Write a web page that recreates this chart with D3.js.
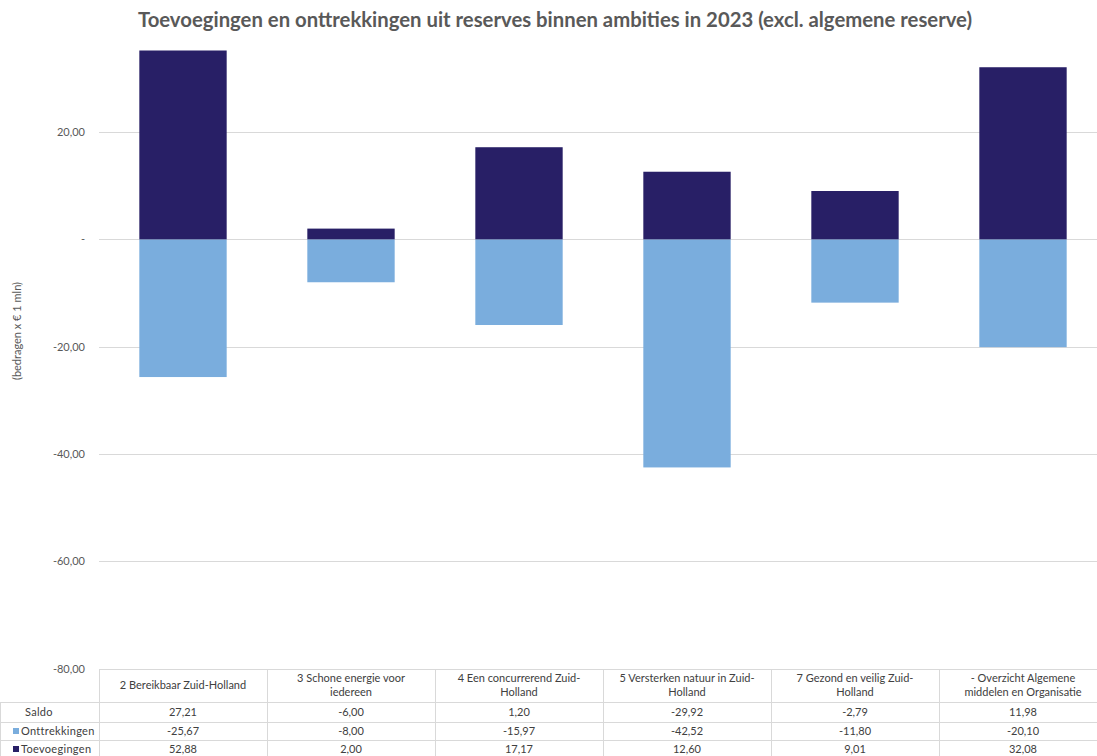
<!DOCTYPE html>
<html>
<head>
<meta charset="utf-8">
<script src="https://cdn.jsdelivr.net/npm/d3@7"></script>
<style>
  body { margin: 0; background: #fff; }
  svg text { font-family: Lato, "Open Sans", sans-serif; }
</style>
</head>
<body>
<div id="chart"></div>
<script>

var title = "Toevoegingen en onttrekkingen uit reserves binnen ambities in 2023 (excl. algemene reserve)"

var categories = [
	"2 Bereikbaar Zuid-Holland",
	"3 Schone energie voor\niedereen",
	"4 Een concurrerend Zuid-\nHolland",
	"5 Versterken natuur in Zuid-\nHolland",
	"7 Gezond en veilig Zuid-\nHolland",
	"- Overzicht Algemene\nmiddelen en Organisatie"
]

var saldo = [27.21, -6.00, 1.20, -29.92, -2.79, 11.98]
var onttrekkingen = [-25.67, -8.00, -15.97, -42.52, -11.80, -20.10]
var toevoegingen = [52.88, 2.00, 17.17, 12.60, 9.01, 32.08]

var yTicks = [-80, -60, -40, -20, 0, 20]
var yDomain = [-80, 35.2]

var yTitle = "(bedragen x € 1 mln)"

var width = 1097, height = 756

var plotLeft = 99, plotTop = 50.5, plotBottom = 668.5
var colWidth = 168

var navy = "#281f66", light = "#7aaddd", grid = "#d9d9d9", textCol = "#595959"

var svg = d3.select("#chart").append("svg")
	.attr("width", width)
	.attr("height", height)

var x = d3.scaleBand()
	.domain(d3.range(categories.length))
	.range([plotLeft, plotLeft + colWidth * categories.length])
	.paddingInner(0.48)
	.paddingOuter(0.24)

var y = d3.scaleLinear()
	.domain(yDomain)
	.range([plotBottom, plotTop])

var fmt = function(v) {
	if (v === 0) return "-"
	return d3.format(".2f")(v).replace(".", ",").replace("−", "-")
}

// title
var t = svg.append("text")
	.attr("x", 555)
	.attr("y", 27)
	.attr("text-anchor", "middle")
	.attr("font-weight", "bold")
	.attr("font-size", 18)
	.attr("fill", textCol)
	.text(title)

var tw = t.node().getComputedTextLength()
t.attr("font-size", 18 * 835 / tw)

// gridlines
svg.append("g").selectAll("line")
	.data(yTicks)
	.enter()
	.append("line")
	.attr("x1", plotLeft)
	.attr("x2", width)
	.attr("y1", d => Math.round(y(d)) + 0.5)
	.attr("y2", d => Math.round(y(d)) + 0.5)
	.attr("stroke", grid)

// y tick labels
svg.append("g").selectAll("text")
	.data(yTicks)
	.enter()
	.append("text")
	.attr("x", 85)
	.attr("y", d => y(d) + 4)
	.attr("text-anchor", "end")
	.attr("font-size", 11)
	.attr("fill", textCol)
	.text(fmt)

svg.append("text")
	.attr("transform", "translate(21,331) rotate(-90)")
	.attr("text-anchor", "middle")
	.attr("font-size", 11)
	.attr("fill", textCol)
	.text(yTitle)

// bars
svg.append("clipPath").attr("id", "plotClip")
	.append("rect")
	.attr("x", plotLeft)
	.attr("y", plotTop)
	.attr("width", width - plotLeft)
	.attr("height", plotBottom - plotTop)

var bars = svg.append("g").attr("clip-path", "url(#plotClip)")

bars.selectAll(".neg")
	.data(onttrekkingen)
	.enter()
	.append("rect")
	.attr("class", "neg")
	.attr("x", (d, i) => x(i))
	.attr("width", x.bandwidth())
	.attr("y", y(0))
	.attr("height", d => y(d) - y(0))
	.attr("fill", light)

bars.selectAll(".pos")
	.data(toevoegingen)
	.enter()
	.append("rect")
	.attr("class", "pos")
	.attr("x", (d, i) => x(i))
	.attr("width", x.bandwidth())
	.attr("y", d => y(d))
	.attr("height", d => y(0) - y(d))
	.attr("fill", navy)

// data table
var table = svg.append("g")

var rowLines = [702, 722, 740, 758]
var rowCentres = [712, 731, 749]
var headTop = Math.round(y(-80))

var colEdges = d3.range(categories.length + 1).map(i => plotLeft + i * colWidth)

table.selectAll(".vline")
	.data(colEdges)
	.enter()
	.append("line")
	.attr("x1", d => d + 0.5)
	.attr("x2", d => d + 0.5)
	.attr("y1", headTop)
	.attr("y2", height)
	.attr("stroke", grid)

table.append("line")
	.attr("x1", 0.5).attr("x2", 0.5)
	.attr("y1", rowLines[0]).attr("y2", height)
	.attr("stroke", grid)

table.selectAll(".hline")
	.data(rowLines)
	.enter()
	.append("line")
	.attr("x1", 0)
	.attr("x2", width)
	.attr("y1", d => d + 0.5)
	.attr("y2", d => d + 0.5)
	.attr("stroke", grid)

// header labels
categories.forEach(function(c, i) {
	var lines = c.split("\n")
	var cx = plotLeft + i * colWidth + colWidth / 2
	var startY = lines.length == 1 ? 689 : 682
	lines.forEach(function(l, j) {
		table.append("text")
			.attr("x", cx)
			.attr("y", startY + j * 14)
			.attr("text-anchor", "middle")
			.attr("font-size", 11)
			.attr("fill", "#404040")
			.text(l)
	})
})

var rows = [
	{ name: "Saldo", values: saldo, color: null },
	{ name: "Onttrekkingen", values: onttrekkingen, color: light },
	{ name: "Toevoegingen", values: toevoegingen, color: navy }
]

rows.forEach(function(r, k) {
	var cy = rowCentres[k]
	if (r.color) {
		table.append("rect")
			.attr("x", 13)
			.attr("y", cy - 3)
			.attr("width", 6)
			.attr("height", 6)
			.attr("fill", r.color)
	}
	table.append("text")
		.attr("x", r.color ? 21 : 25)
		.attr("y", cy + 4)
		.attr("font-size", 11)
		.attr("letter-spacing", 0.3)
		.attr("fill", "#404040")
		.text(r.name)

	table.selectAll(".v" + k)
		.data(r.values)
		.enter()
		.append("text")
		.attr("x", (d, i) => plotLeft + i * colWidth + colWidth / 2)
		.attr("y", cy + 4)
		.attr("text-anchor", "middle")
		.attr("font-size", 11)
		.attr("fill", "#404040")
		.text(fmt)
})

</script>
</body>
</html>
